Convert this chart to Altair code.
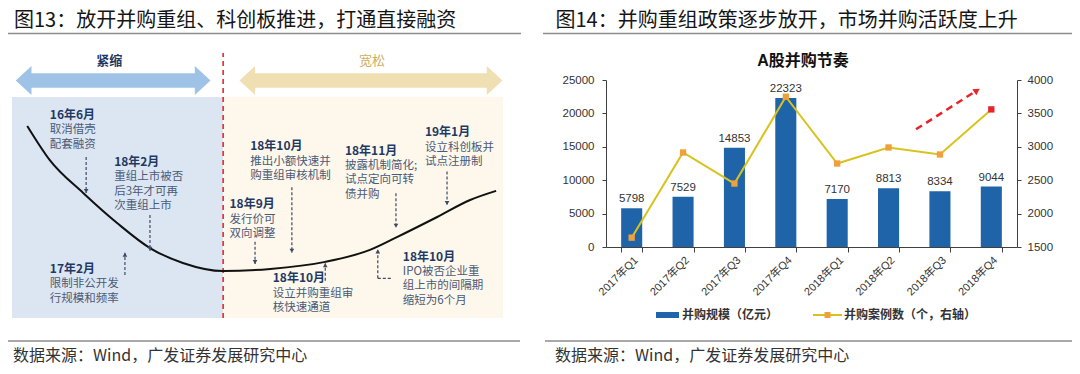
import altair as alt
import pandas as pd

# ---------------- right chart data ----------------
quarters = ["2017年Q1", "2017年Q2", "2017年Q3", "2017年Q4",
            "2018年Q1", "2018年Q2", "2018年Q3", "2018年Q4"]
deal_value = [5798, 7529, 14853, 22323, 7170, 8813, 8334, 9044]      # 并购规模（亿元）
deal_count = [1640, 2915, 2450, 3750, 2750, 2990, 2885, 3560]        # 并购案例数（个）
left_ticks = [0, 5000, 10000, 15000, 20000, 25000]
right_ticks = [1500, 2000, 2500, 3000, 3500, 4000]

# ---------------- left diagram data (schematic units 0-100) ----------------
curve_x = [3.1, 7.7, 14.5, 21.4, 28.1, 34.8, 43.0, 52.6, 63.8, 72.9, 78.4, 86.6, 93.3, 98.6]
curve_y = [73.6, 60.5, 47.9, 36.4, 26.8, 21.1, 18.0, 18.8, 21.5, 26.1, 31.0, 38.7, 45.2, 48.7]

phase_names = ["紧缩", "宽松"]
phase_start = [0.0, 43.0]
phase_end = [43.0, 100.0]
phase_top = [84.7, 84.7]
phase_arrow_x = [20.6, 73.1]
phase_label_x = [19.8, 73.3]

ann_dates = ["16年6月", "18年2月", "17年2月", "18年9月", "18年10月",
             "18年10月", "18年11月", "19年1月", "18年10月"]
ann_bodies = ["取消借壳\n配套融资",
              "重组上市被否\n后3年才可再\n次重组上市",
              "限制非公开发\n行规模和频率",
              "发行价可\n双向调整",
              "推出小额快速并\n购重组审核机制",
              "设立并购重组审\n核快速通道",
              "披露机制简化;\n试点定向可转\n债并购",
              "设立科创板并\n试点注册制",
              "IPO被否企业重\n组上市的间隔期\n缩短为6个月"]
ann_x = [7.7, 20.8, 7.7, 44.3, 48.5, 53.1, 67.8, 84.1, 79.6]
ann_y = [77.8, 59.8, 18.8, 43.6, 65.9, 15.2, 64.1, 71.1, 23.5]

arrow_x = [15.1, 28.1, 23.0, 49.5, 57.0, 63.8, 78.2, 88.6, 74.5]
arrow_from = [61.7, 39.5, 16.5, 29.2, 50.1, 14.3, 47.8, 56.1, 15.2]
arrow_to = [47.9, 25.8, 25.0, 20.7, 25.0, 21.0, 34.6, 43.3, 26.3]
elbow_x = [74.5, 77.4]
elbow_y = [15.2, 15.2]

# ---------------- styles ----------------
FONT_CN = "Noto Sans CJK SC"
FONT_NUM = "Liberation Sans, Arial, Noto Sans CJK SC"
BLUE = "#1F64A8"
YEL = "#D8C31E"
ORANGE = "#F0A03A"
RED = "#E8232A"
NAVY = "#1F3864"
BODY = "#4B5A78"
DASH = "#3C4A66"

DX = alt.Scale(domain=[0, 100], range=[-594, -103], nice=False, zero=False)
DY = alt.Scale(domain=[0, 100], range=[238, -23], nice=False, zero=False)


def ux(f):
    return alt.X(f, type="quantitative", scale=DX, axis=None)


def uy(f):
    return alt.Y(f, type="quantitative", scale=DY, axis=None)


# ---------------- left diagram ----------------
phase_df = pd.DataFrame({"phase": phase_names, "x0": phase_start, "x1": phase_end,
                         "y1": phase_top, "ax": phase_arrow_x, "lx": phase_label_x})
phase_df["y0"] = 0.0
phase_df["ay"] = 91.0
phase_df["ly"] = 98.3

bg = alt.Chart(phase_df).mark_rect().encode(
    x=ux("x0"), x2="x1", y=uy("y0"), y2="y1",
    color=alt.Color("phase:N", scale=alt.Scale(domain=phase_names, range=["#DCE6F2", "#FDF8EB"]), legend=None),
)

bound_df = pd.DataFrame({"x": [phase_end[0]], "y0": [0.0], "y1": [101.5]})
boundary = alt.Chart(bound_df).mark_rule(color="#E02A2F", strokeWidth=1.6, strokeDash=[5, 4]).encode(
    x=ux("x"), y=uy("y0"), y2="y1")

BLUE_ARROW = ("M -1 0 L -0.839 -0.149 L -0.839 -0.075 L 0.839 -0.075 L 0.839 -0.149 L 1 0 "
              "L 0.839 0.149 L 0.839 0.075 L -0.839 0.075 L -0.839 0.149 Z")
BEIGE_ARROW = ("M -1 0 L -0.881 -0.11 L -0.881 -0.0555 L 0.881 -0.0555 L 0.881 -0.11 L 1 0 "
               "L 0.881 0.11 L 0.881 0.0555 L -0.881 0.0555 L -0.881 0.11 Z")
arrow_blue = alt.Chart(phase_df.iloc[[0]]).mark_point(
    shape=BLUE_ARROW, filled=True, opacity=1, size=37908, color="#9EC3E6").encode(x=ux("ax"), y=uy("ay"))
arrow_beige = alt.Chart(phase_df.iloc[[1]]).mark_point(
    shape=BEIGE_ARROW, filled=True, opacity=1, size=69169, color="#F0DFB2").encode(x=ux("ax"), y=uy("ay"))

label_tight = alt.Chart(phase_df.iloc[[0]]).mark_text(
    font=FONT_CN, fontSize=13, fontWeight="bold", baseline="middle", align="center", color=NAVY).encode(
    x=ux("lx"), y=uy("ly"), text="phase:N")
label_loose = alt.Chart(phase_df.iloc[[1]]).mark_text(
    font=FONT_CN, fontSize=13, baseline="middle", align="center", color="#D2AE5E").encode(
    x=ux("lx"), y=uy("ly"), text="phase:N")

curve_df = pd.DataFrame({"x": curve_x, "y": curve_y})
curve = alt.Chart(curve_df).mark_line(color="#111111", strokeWidth=2, interpolate="monotone").encode(
    x=ux("x"), y=uy("y"))

ann_df = pd.DataFrame({"date": ann_dates, "body": ann_bodies, "x": ann_x, "y": ann_y})
ann_date = alt.Chart(ann_df).mark_text(font=FONT_CN, fontSize=12, fontWeight="bold", color=NAVY,
                                       align="left", baseline="middle").encode(
    x=ux("x"), y=uy("y"), text="date:N")
ann_body = alt.Chart(ann_df).mark_text(font=FONT_CN, fontSize=11.5, color=BODY, align="left",
                                       baseline="top", dy=9.5, lineBreak="\n", lineHeight=14.3).encode(
    x=ux("x"), y=uy("y"), text="body:N")

arr_df = pd.DataFrame({"x": arrow_x, "y0": arrow_from, "y1": arrow_to})
arr_df["dir"] = ["up" if b > a else "down" for a, b in zip(arrow_from, arrow_to)]
dashes = alt.Chart(arr_df).mark_rule(color=DASH, strokeWidth=1.2, strokeDash=[3, 2]).encode(
    x=ux("x"), y=uy("y0"), y2="y1")
heads_down = alt.Chart(arr_df).transform_filter(alt.datum.dir == "down").mark_point(
    shape="triangle-down", filled=True, opacity=1, size=22, color=DASH, yOffset=-2).encode(
    x=ux("x"), y=uy("y1"))
heads_up = alt.Chart(arr_df).transform_filter(alt.datum.dir == "up").mark_point(
    shape="triangle-up", filled=True, opacity=1, size=22, color=DASH, yOffset=2).encode(
    x=ux("x"), y=uy("y1"))
elbow_df = pd.DataFrame({"x0": [elbow_x[0]], "x1": [elbow_x[1]], "y": [elbow_y[0]]})
elbow = alt.Chart(elbow_df).mark_rule(color=DASH, strokeWidth=1.2, strokeDash=[3, 2]).encode(
    x=ux("x0"), x2="x1", y=uy("y"))

diagram = alt.layer(bg, boundary, arrow_blue, arrow_beige, label_tight, label_loose, curve,
                    dashes, elbow, heads_down, heads_up, ann_date, ann_body)

# ---------------- right chart ----------------
df = pd.DataFrame({"quarter": quarters, "value": deal_value, "count": deal_count})
base = alt.Chart(df)

x_axis = alt.Axis(title=None, labelAngle=-45, labelFontSize=11, labelFont=FONT_NUM, labelColor="#333333",
                  tickBand="extent", tickSize=5, tickColor="#404040", domainColor="#404040",
                  labelPadding=2, grid=False)
XQ = alt.X("quarter:N", sort=quarters, scale=alt.Scale(paddingInner=0.59, paddingOuter=0.295), axis=x_axis)

AX_COMMON = dict(title=None, format="d", labelOverlap=False, tickSize=4, labelFontSize=11.5, labelFont=FONT_NUM,
                 labelColor="#333333", tickColor="#404040", domainColor="#404040", grid=False, labelFlush=False,
                 labelBound=False)
left_axis = alt.Axis(values=left_ticks, tickCount=len(left_ticks), labelPadding=8, orient="left", **AX_COMMON)
right_axis = alt.Axis(values=right_ticks, tickCount=len(right_ticks), labelPadding=6, orient="right", **AX_COMMON)
Y_LEFT = alt.Y("value:Q", scale=alt.Scale(domain=[0, 25000], nice=False), axis=left_axis)
Y_RIGHT = alt.Y("count:Q", scale=alt.Scale(domain=[1500, 4000], nice=False), axis=right_axis)

bars = base.mark_bar(color=BLUE).encode(x=XQ, y=Y_LEFT)
bar_labels = base.mark_text(baseline="bottom", dy=-4, fontSize=11.5, font=FONT_NUM, color="#333333").encode(
    x=XQ, y=Y_LEFT, text=alt.Text("value:Q", format="d"))

line = base.mark_line(color=YEL, strokeWidth=2).encode(x=XQ, y=Y_RIGHT)
pts = base.mark_point(shape="square", filled=True, size=40, opacity=1).encode(
    x=XQ, y=Y_RIGHT,
    color=alt.condition(alt.datum.quarter == "2018年Q4", alt.value(RED), alt.value(ORANGE)),
)

chart = alt.layer(alt.layer(bars, bar_labels), alt.layer(line, pts)).resolve_scale(y="independent")

# ---------------- headers, footers, title, legend ----------------
one = pd.DataFrame({"k": [0]})


def txt(s, x, y, **kw):
    return alt.Chart(one).mark_text(**kw).encode(x=alt.value(x), y=alt.value(y), text=alt.value(s))


def hrule(x0, x1, y, color="#8C8C8C", w=1.5, dash=None):
    props = dict(color=color, strokeWidth=w)
    if dash:
        props["strokeDash"] = dash
    return alt.Chart(one).mark_rule(**props).encode(x=alt.value(x0), x2=alt.value(x1), y=alt.value(y))


HEAD = dict(font=FONT_CN, fontSize=20, color="#151515", align="left", baseline="middle")
FOOT = dict(font=FONT_CN, fontSize=16, color="#333333", align="left", baseline="middle")
source = "数据来源：Wind，广发证券发展研究中心"

deco = [
    txt("图13：放开并购重组、科创板推进，打通直接融资", -592, -59.5, **HEAD),
    txt("图14：并购重组政策逐步放开，市场并购活跃度上升", -50.5, -59.5, **HEAD),
    hrule(-598, -85, -46.5),
    hrule(-63, 466, -46.5),
    hrule(-598, -86, 261),
    hrule(-61, 466, 261),
    txt(source, -593, 275.5, **FOOT),
    txt(source, -51, 275.5, **FOOT),
    txt("A股并购节奏", 197, -19, font=FONT_NUM, fontSize=16, fontWeight="bold", color="#111111",
        align="center", baseline="middle"),
    alt.Chart(one).mark_rect(color=BLUE).encode(x=alt.value(50), x2=alt.value(73),
                                                y=alt.value(232), y2=alt.value(238)),
    txt("并购规模（亿元）", 76, 235, font=FONT_CN, fontSize=12, fontWeight="bold", color="#333333",
        align="left", baseline="middle"),
    hrule(207, 236, 235, color=YEL, w=2),
    alt.Chart(one).mark_point(shape="square", filled=True, size=36, opacity=1, color=ORANGE).encode(
        x=alt.value(221.5), y=alt.value(235)),
    txt("并购案例数（个，右轴）", 238, 235, font=FONT_CN, fontSize=12, fontWeight="bold", color="#333333",
        align="left", baseline="middle"),
    alt.Chart(one).mark_rule(color=RED, strokeWidth=2.5, strokeDash=[7, 5]).encode(
        x=alt.value(310), y=alt.value(49.3), x2=alt.value(370), y2=alt.value(11)),
    alt.Chart(one).mark_point(shape="triangle-up", filled=True, size=55, opacity=1, color=RED, angle=57).encode(
        x=alt.value(371), y=alt.value(10.5)),
]

final = alt.layer(diagram, *deco, chart).resolve_scale(x="independent", y="independent").properties(
    width=411, height=167,
    autosize=alt.AutoSizeParams(type="none"),
    padding={"left": 598, "top": 72, "right": 55, "bottom": 119},
).configure_view(stroke=None)

final.save("out.html", embed_options={"renderer": "svg", "actions": False})
